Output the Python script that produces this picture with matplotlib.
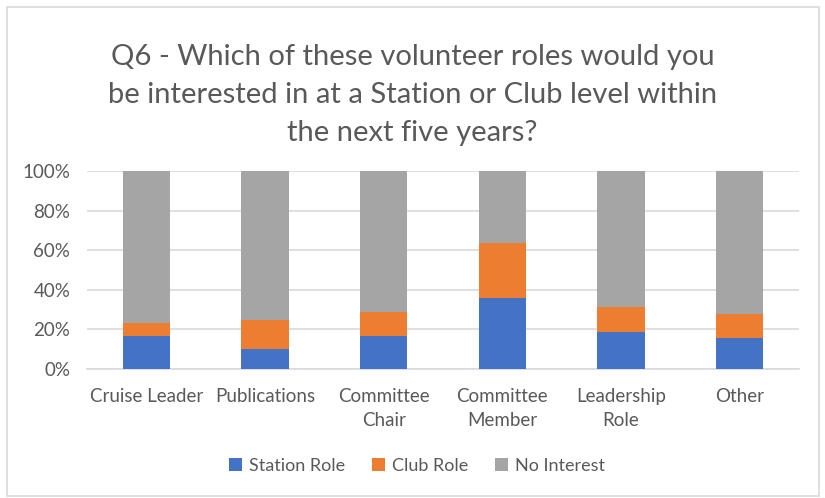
import numpy as np
import matplotlib.pyplot as plt
from matplotlib.patches import Rectangle

# Data (percent)
categories = ['Cruise Leader', 'Publications', 'Committee\nChair',
              'Committee\nMember', 'Leadership\nRole', 'Other']
station_role = [16.5, 9.9, 16.5, 36.1, 18.8, 15.5]
club_role = [6.7, 15.0, 12.2, 27.3, 12.3, 12.2]
no_interest = [100 - s - c for s, c in zip(station_role, club_role)]

series_names = ['Station Role', 'Club Role', 'No Interest']
colors = ['#4472C4', '#ED7D31', '#A5A5A5']
text_color = '#595959'

plt.rcParams['font.family'] = ['Lato', 'DejaVu Sans']

fig = plt.figure(figsize=(8.25, 4.98), dpi=100)
ax = fig.add_axes([87 / 825, 1 - 369 / 498, 712 / 825, 198 / 498])

x = np.arange(len(categories))
bottom = np.zeros(len(categories))
for vals, name, col in zip([station_role, club_role, no_interest], series_names, colors):
    ax.bar(x, vals, width=0.4, bottom=bottom, color=col, label=name, zorder=3)
    bottom += np.array(vals)

ax.set_xlim(-0.5, len(categories) - 0.5)
ax.set_ylim(0, 100)
ax.set_yticks(range(0, 101, 20))
ax.set_yticklabels([f'{v}%' for v in range(0, 101, 20)])
ax.set_xticks(x)
ax.set_xticklabels(categories, linespacing=1.55)
ax.yaxis.grid(True, color='#D9D9D9', linewidth=1.2, zorder=0)
for s in ['top', 'right', 'left']:
    ax.spines[s].set_visible(False)
ax.spines['bottom'].set_color('#D9D9D9')
ax.spines['bottom'].set_linewidth(1.2)
ax.tick_params(axis='both', length=0, labelsize=13.5, colors=text_color)
ax.tick_params(axis='x', pad=13.5)
ax.tick_params(axis='y', pad=12)

fig.text(0.5, 1 - 95 / 498, 'Q6 - Which of these volunteer roles would you\n'
         'be interested in at a Station or Club level within\nthe next five years?',
         ha='center', va='center', fontsize=21, color=text_color, linespacing=1.55)

fig.legend(*ax.get_legend_handles_labels(), loc='center',
           bbox_to_anchor=(417 / 825, 1 - 466 / 498), ncol=3, frameon=False,
           fontsize=13, labelcolor=text_color, handlelength=0.7, handleheight=0.7,
           columnspacing=1.5, handletextpad=0.4)

fig.patches.append(Rectangle((7 / 825, 0.004), 812 / 825, 1 - 7 / 498 - 0.004,
                             transform=fig.transFigure, fill=False,
                             edgecolor='#D9D9D9', linewidth=1.2))

fig.savefig('out.png', dpi=100)
